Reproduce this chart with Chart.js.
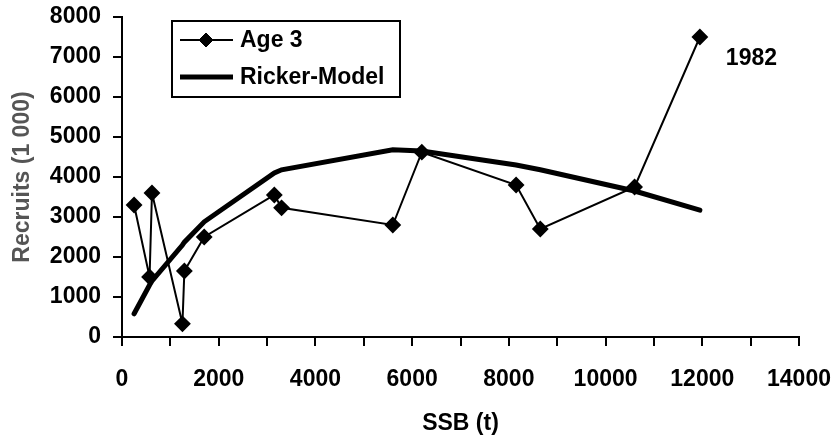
<!DOCTYPE html>
<html lang="en">
<head>
  <meta charset="UTF-8" />
  <title>Recruits vs SSB</title>
  <script src="https://cdn.jsdelivr.net/npm/chart.js"></script>
  <style>
    body {
      margin: 0;
      background: #fff;
    }
    #grafico {
      display: block;
    }
  </style>
</head>
<body>
  <canvas id="grafico" width="833" height="436"></canvas>

  <script>
    // SSB (t) and recruits (1 000), age 3
    const ssbAge3 = [250, 570, 620, 1250, 1290, 1700, 3150, 3300, 5600, 6200, 8150, 8650, 10600, 11950];
    const recruitsAge3 = [3300, 1500, 3600, 330, 1650, 2500, 3550, 3230, 2800, 4620, 3800, 2700, 3750, 7500];

    // Ricker model curve
    const ssbRicker = [250, 570, 620, 1250, 1290, 1700, 3150, 3300, 5600, 6200, 8150, 8650, 10600, 11950];
    const recruitsRicker = [580, 1300, 1400, 2300, 2370, 2880, 4100, 4180, 4680, 4650, 4300, 4180, 3650, 3170];

    const seriesNames = ['Age 3', 'Ricker-Model'];
    const yearLabel = '1982';

    const fonte = 'bold 23px "Liberation Sans", Arial, sans-serif';

    function pares(xs, ys) {
      return xs.map((x, i) => ({ x: x, y: ys[i] }));
    }

    // legenda com moldura, dentro da area do grafico
    const legendaBox = {
      id: 'legendaBox',
      afterDraw(chart) {
        const ctx = chart.ctx;
        const x0 = 172, y0 = 21, w = 228, h = 76;
        ctx.save();
        ctx.fillStyle = '#fff';
        ctx.fillRect(x0, y0, w, h);
        ctx.strokeStyle = '#000';
        ctx.lineWidth = 2;
        ctx.strokeRect(x0, y0, w, h);

        chart.data.datasets.forEach((ds, i) => {
          const yy = y0 + 19 + i * 37;
          ctx.strokeStyle = ds.borderColor;
          ctx.lineWidth = ds.borderWidth;
          ctx.lineCap = 'butt';
          ctx.beginPath();
          ctx.moveTo(x0 + 8, yy);
          ctx.lineTo(x0 + 61, yy);
          ctx.stroke();
          if (ds.pointRadius > 0) {
            ctx.fillStyle = ds.backgroundColor;
            ctx.lineWidth = 1;
            Chart.helpers.drawPoint(ctx, {
              pointStyle: ds.pointStyle,
              radius: ds.pointRadius,
              borderWidth: 1
            }, x0 + 34, yy);
          }
          ctx.fillStyle = '#000';
          ctx.font = fonte;
          ctx.textAlign = 'left';
          ctx.textBaseline = 'middle';
          ctx.fillText(ds.label, x0 + 68, yy + 1);
        });
        ctx.restore();
      }
    };

    const rotuloAno = {
      id: 'rotuloAno',
      afterDraw(chart) {
        const ctx = chart.ctx;
        const xs = chart.scales.x, ys = chart.scales.y;
        const n = ssbAge3.length - 1;
        ctx.save();
        ctx.fillStyle = '#000';
        ctx.font = fonte;
        ctx.textAlign = 'left';
        ctx.textBaseline = 'middle';
        ctx.fillText(yearLabel, xs.getPixelForValue(ssbAge3[n]) + 26, ys.getPixelForValue(recruitsAge3[n]) + 22);
        ctx.restore();
      }
    };

    const fonteTick = { family: '"Liberation Sans", Arial, sans-serif', size: 23, weight: 'bold' };

    const config = {
      type: 'scatter',
      data: {
        datasets: [
          {
            label: seriesNames[0],
            data: pares(ssbAge3, recruitsAge3),
            showLine: true,
            borderColor: '#000',
            backgroundColor: '#000',
            borderWidth: 2,
            pointStyle: 'rectRot',
            pointRadius: 7,
            pointHoverRadius: 7,
            order: 1
          },
          {
            label: seriesNames[1],
            data: pares(ssbRicker, recruitsRicker),
            showLine: true,
            borderColor: '#000',
            backgroundColor: '#000',
            borderWidth: 5,
            borderCapStyle: 'round',
            pointRadius: 0,
            pointHoverRadius: 0,
            order: 2
          }
        ]
      },
      options: {
        responsive: false,
        animation: false,
        layout: {
          padding: { top: 17, right: 34, left: 0, bottom: 0 }
        },
        plugins: {
          legend: { display: false },
          tooltip: { enabled: false }
        },
        scales: {
          x: {
            type: 'linear',
            min: 0,
            max: 14000,
            afterFit(scale) {
              scale.height = 99;
              scale.paddingLeft = 0;
              scale.paddingRight = 0;
            },
            border: { color: '#000', width: 2 },
            grid: { drawOnChartArea: false, color: '#000', lineWidth: 2, tickLength: 9 },
            ticks: {
              stepSize: 1000,
              color: '#000',
              font: fonteTick,
              padding: 20,
              maxRotation: 0,
              autoSkip: false,
              callback: v => (v % 2000 === 0 ? String(v) : '')
            },
            title: {
              display: true,
              text: 'SSB (t)',
              color: '#000',
              font: fonteTick,
              padding: { top: 0, bottom: -1 }
            }
          },
          y: {
            type: 'linear',
            min: 0,
            max: 8000,
            afterFit(scale) {
              scale.width = 122;
              scale.paddingTop = 0;
              scale.paddingBottom = 0;
            },
            border: { color: '#000', width: 2 },
            grid: { drawOnChartArea: false, color: '#000', lineWidth: 2, tickLength: 9 },
            ticks: {
              stepSize: 1000,
              color: '#000',
              font: fonteTick,
              padding: 12,
              callback: v => String(v)
            },
            title: {
              display: true,
              text: 'Recruits (1 000)',
              color: '#555',
              font: fonteTick,
              padding: { top: 9, bottom: 0 }
            }
          }
        }
      },
      plugins: [legendaBox, rotuloAno]
    };

    new Chart(document.getElementById('grafico').getContext('2d'), config);
  </script>
</body>
</html>
